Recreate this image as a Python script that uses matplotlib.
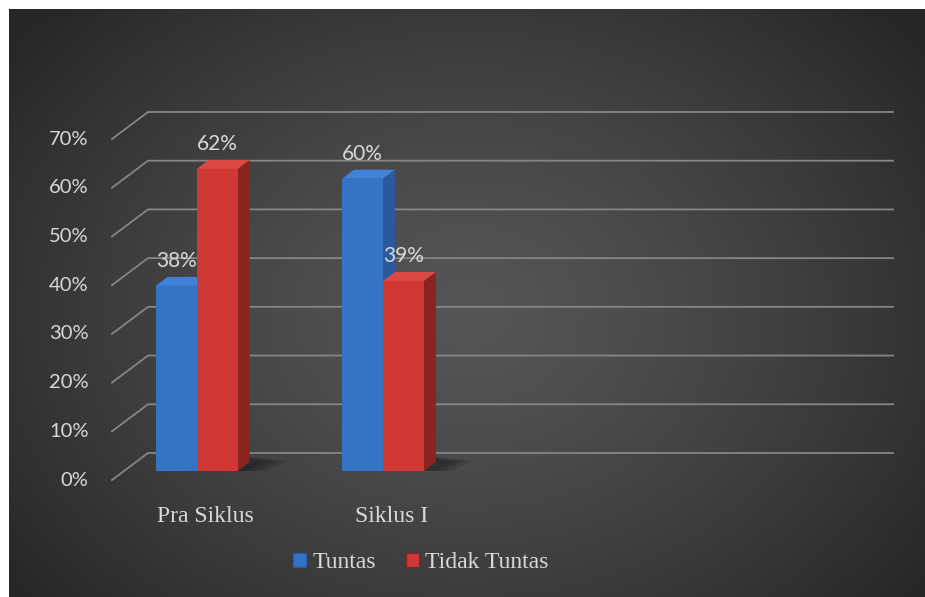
import numpy as np
import matplotlib
matplotlib.use('Agg')
import matplotlib.pyplot as plt
from matplotlib.patches import Polygon, Patch

categories = ['Pra Siklus', 'Siklus I']
tuntas = [38, 60]
tidak_tuntas = [62, 39]
series_names = ['Tuntas', 'Tidak Tuntas']
y_ticks = [0, 10, 20, 30, 40, 50, 60, 70]

blue = dict(front='#3474c6', top='#3f82d8', side='#2a5a9e')
red = dict(front='#cf3834', top='#dc4843', side='#8a2421')
label_color = '#d9d9d9'

fig = plt.figure(figsize=(9.25, 5.97), dpi=100, facecolor='white')

# dark radial background
bg = fig.add_axes([9 / 925, 0, 916 / 925, 588 / 597])
yy, xx = np.mgrid[0:1:300j, 0:1:460j]
r = np.sqrt(((xx - 0.5) / 0.62) ** 2 + ((yy - 0.52) / 0.75) ** 2)
shade = 0.335 - 0.18 * np.clip(r, 0, 1) ** 1.3
bg.imshow(np.dstack([shade] * 3), aspect='auto', extent=(0, 1, 0, 1))
bg.set_axis_off()

ax = fig.add_axes([124 / 925, 126 / 597, 745 / 925, 341 / 597])
ax.set_xlim(-0.5, 3.5)
ax.set_ylim(0, 70)
ax.set_axis_off()

# depth offsets (data units)
wall_dx, wall_dy = 0.129, 3.7
front_dx, front_dy = -0.0645, -1.85
bar_dx, bar_dy = 0.0645, 1.85
width = 0.22
x_left, x_right = ax.get_xlim()

grid_color = '#868686'
for v in y_ticks:
    ax.plot([x_left + front_dx, x_left + wall_dx, x_right + wall_dx],
            [v + front_dy, v + wall_dy, v + wall_dy],
            color=grid_color, lw=1.3, clip_on=False, zorder=1)
    ax.text(x_left - 0.19, v + front_dy, f'{v}%', ha='right', va='center',
            color=label_color, fontsize=14.5, family='Lato')


def bar3d(xc, h, col):
    x0, x1 = xc - width / 2, xc + width / 2
    ax.bar(xc, h, width=width, color=col['front'], zorder=4)
    ax.add_patch(Polygon([(x0, h), (x1, h), (x1 + bar_dx, h + bar_dy),
                          (x0 + bar_dx, h + bar_dy)], closed=True,
                         facecolor=col['top'], edgecolor='none', zorder=4))
    ax.add_patch(Polygon([(x1, 0), (x1, h), (x1 + bar_dx, h + bar_dy),
                          (x1 + bar_dx, bar_dy)], closed=True,
                         facecolor=col['side'], edgecolor='none', zorder=3))
    ax.annotate(f'{h}%', (xc, h), xytext=(0, 18), textcoords='offset points',
                ha='center', va='center', color=label_color, fontsize=15,
                family='Lato', zorder=6)


x = np.arange(len(categories))
for i in range(len(categories)):
    # soft floor shadow, a few stacked translucent layers
    gx0 = x[i] - 1.5 * width
    gx1 = x[i] + width / 2
    for grow in (0.0, 0.04, 0.08):
        ax.add_patch(Polygon([(gx0 - 0.02 - grow, -0.4 - grow * 6),
                              (gx1 + 0.03 + grow, -0.4 - grow * 6),
                              (gx1 + bar_dx + 0.11 + grow, bar_dy + 0.2),
                              (gx1 + bar_dx, bar_dy + 0.6 + grow * 6)],
                             closed=True, facecolor='black', alpha=0.13,
                             edgecolor='none', zorder=2))
    bar3d(x[i] - width, tuntas[i], blue)
    bar3d(x[i], tidak_tuntas[i], red)
    ax.text(x[i] + front_dx, -9.4, categories[i], ha='center', va='center',
            color=label_color, fontsize=17, family='Liberation Serif')

handles = [Patch(facecolor=blue['front'], edgecolor=blue['side']),
           Patch(facecolor=red['front'], edgecolor=red['side'])]
leg = fig.legend(handles, series_names, loc='center',
                 bbox_to_anchor=(421 / 925, 1 - 563 / 597), ncol=2,
                 frameon=False, handlelength=0.55, handleheight=0.55,
                 handletextpad=0.25, columnspacing=1.3,
                 prop={'family': 'Liberation Serif', 'size': 17})
for t in leg.get_texts():
    t.set_color(label_color)

fig.savefig('out.png', dpi=100, facecolor='white')
